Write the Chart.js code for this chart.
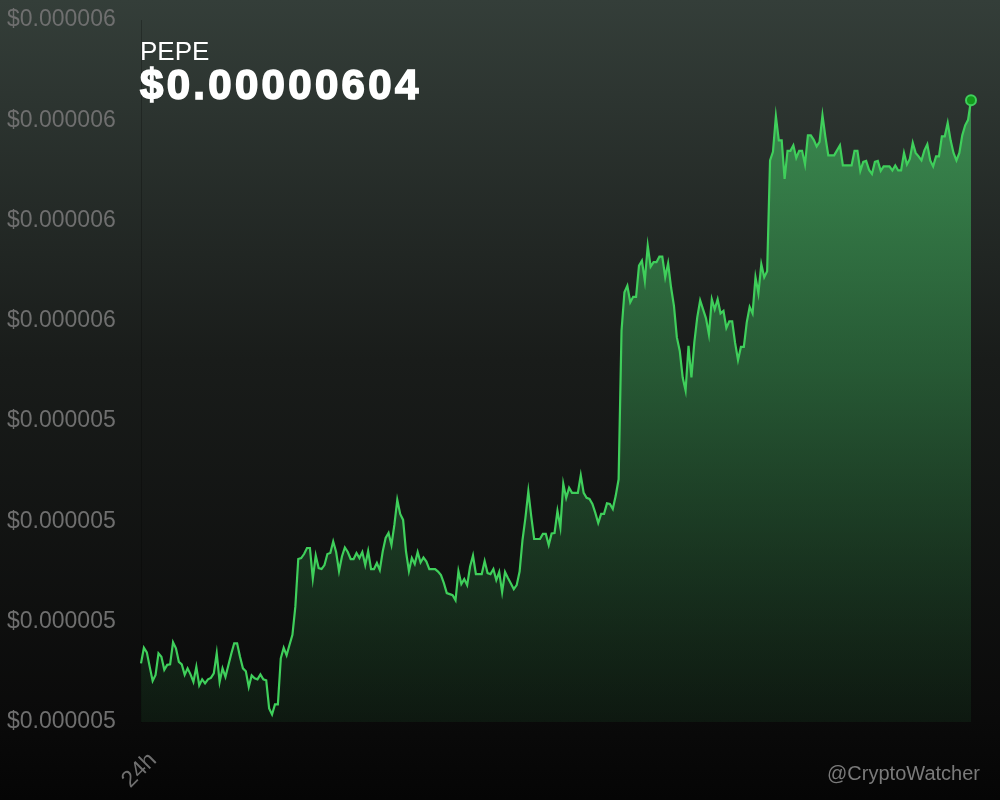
<!DOCTYPE html>
<html>
<head>
<meta charset="utf-8">
<script src="https://cdn.jsdelivr.net/npm/chart.js@4.4.0/dist/chart.umd.min.js"></script>
<style>
  body { margin: 0; background: #050505; }
  canvas { display: block; }
</style>
</head>
<body>
<canvas id="price-chart" width="1000" height="800"></canvas>
<script>
const coin = 'PEPE';
const lastPrice = '$0.00000604';
const tickLabels = ['24h'];
const watermark = '@CryptoWatcher';

// 24h of prices
const prices = [
  4.917e-6, 4.948e-6, 4.939e-6, 4.910e-6, 4.882e-6, 4.894e-6, 4.937e-6, 4.930e-6, 4.904e-6, 4.914e-6,
  4.915e-6, 4.959e-6, 4.947e-6, 4.920e-6, 4.915e-6, 4.894e-6, 4.907e-6, 4.895e-6, 4.880e-6, 4.910e-6,
  4.873e-6, 4.885e-6, 4.877e-6, 4.885e-6, 4.888e-6, 4.897e-6, 4.937e-6, 4.880e-6, 4.907e-6, 4.890e-6,
  4.913e-6, 4.936e-6, 4.957e-6, 4.957e-6, 4.930e-6, 4.907e-6, 4.901e-6, 4.870e-6, 4.893e-6, 4.887e-6,
  4.885e-6, 4.895e-6, 4.885e-6, 4.883e-6, 4.827e-6, 4.815e-6, 4.835e-6, 4.835e-6, 4.927e-6, 4.948e-6,
  4.933e-6, 4.954e-6, 4.974e-6, 5.030e-6, 5.125e-6,
  5.127e-6, 5.135e-6, 5.147e-6, 5.147e-6, 5.086e-6, 5.132e-6, 5.107e-6, 5.105e-6, 5.113e-6, 5.135e-6,
  5.137e-6, 5.160e-6, 5.139e-6, 5.101e-6, 5.130e-6, 5.148e-6, 5.139e-6, 5.125e-6, 5.125e-6, 5.137e-6,
  5.127e-6, 5.139e-6, 5.113e-6, 5.141e-6, 5.105e-6, 5.105e-6, 5.117e-6, 5.103e-6, 5.140e-6, 5.167e-6,
  5.177e-6, 5.153e-6, 5.193e-6, 5.243e-6, 5.215e-6, 5.203e-6, 5.140e-6, 5.101e-6, 5.127e-6, 5.115e-6,
  5.139e-6, 5.118e-6,
  5.128e-6, 5.120e-6, 5.105e-6, 5.105e-6, 5.105e-6, 5.100e-6, 5.093e-6, 5.077e-6, 5.057e-6, 5.055e-6,
  5.053e-6, 5.043e-6, 5.101e-6, 5.075e-6, 5.085e-6, 5.073e-6, 5.110e-6, 5.132e-6, 5.095e-6, 5.095e-6,
  5.095e-6, 5.121e-6, 5.097e-6, 5.095e-6, 5.105e-6, 5.083e-6, 5.099e-6, 5.059e-6, 5.099e-6, 5.087e-6,
  5.076e-6, 5.065e-6, 5.073e-6, 5.100e-6, 5.163e-6, 5.207e-6, 5.260e-6, 5.210e-6, 5.165e-6, 5.165e-6,
  5.165e-6, 5.175e-6, 5.175e-6, 5.153e-6, 5.176e-6, 5.177e-6, 5.221e-6, 5.188e-6, 5.275e-6, 5.247e-6,
  5.267e-6, 5.257e-6, 5.257e-6, 5.257e-6, 5.292e-6, 5.257e-6, 5.247e-6, 5.245e-6, 5.235e-6, 5.217e-6,
  5.197e-6, 5.215e-6, 5.215e-6, 5.236e-6, 5.235e-6, 5.225e-6, 5.251e-6, 5.284e-6, 5.580e-6, 5.657e-6,
  5.670e-6, 5.637e-6, 5.648e-6, 5.648e-6, 5.710e-6, 5.720e-6, 5.680e-6, 5.750e-6, 5.708e-6, 5.717e-6,
  5.717e-6, 5.728e-6, 5.728e-6, 5.687e-6, 5.715e-6, 5.667e-6, 5.630e-6, 5.567e-6, 5.540e-6, 5.487e-6,
  5.461e-6, 5.550e-6, 5.487e-6, 5.557e-6, 5.607e-6, 5.641e-6, 5.623e-6, 5.605e-6, 5.573e-6, 5.643e-6,
  5.623e-6, 5.643e-6, 5.615e-6, 5.620e-6, 5.586e-6, 5.599e-6, 5.599e-6, 5.556e-6, 5.522e-6, 5.548e-6,
  5.548e-6, 5.597e-6, 5.628e-6, 5.615e-6, 5.687e-6, 5.655e-6, 5.713e-6, 5.687e-6, 5.699e-6, 5.920e-6,
  5.937e-6, 6.008e-6, 5.960e-6, 5.960e-6, 5.883e-6, 5.939e-6, 5.939e-6, 5.950e-6, 5.925e-6, 5.939e-6,
  5.939e-6, 5.912e-6, 5.970e-6, 5.970e-6, 5.961e-6, 5.948e-6, 5.957e-6, 6.010e-6, 5.967e-6, 5.930e-6,
  5.930e-6, 5.930e-6, 5.940e-6, 5.950e-6, 5.910e-6, 5.910e-6, 5.910e-6, 5.910e-6, 5.939e-6, 5.939e-6,
  5.899e-6, 5.917e-6, 5.919e-6, 5.901e-6, 5.893e-6, 5.917e-6, 5.919e-6, 5.899e-6, 5.908e-6, 5.908e-6,
  5.908e-6, 5.900e-6, 5.910e-6, 5.900e-6, 5.900e-6, 5.935e-6, 5.912e-6, 5.923e-6, 5.955e-6, 5.935e-6,
  5.928e-6, 5.920e-6, 5.940e-6, 5.952e-6, 5.920e-6, 5.908e-6, 5.928e-6, 5.928e-6, 5.968e-6, 5.968e-6,
  5.995e-6, 5.960e-6, 5.935e-6, 5.920e-6, 5.935e-6, 5.970e-6, 5.990e-6, 6.001e-6, 6.040e-6
];

const yMin = 4.8e-6;
const yMax = 6.2e-6;
const yStep = 0.2e-6;

const labels = prices.map((_, i) => (i === 0 ? tickLabels[0] : ''));
const lastIndex = prices.length - 1;

// dark background behind everything
const backdrop = {
  id: 'backdrop',
  beforeDraw(chart) {
    const { ctx, width, height } = chart;
    const g = ctx.createLinearGradient(0, 0, 0, height);
    g.addColorStop(0, '#343e39');
    g.addColorStop(0.45, '#191c1a');
    g.addColorStop(0.9, '#0a0a0a');
    g.addColorStop(1, '#050505');
    ctx.save();
    ctx.fillStyle = g;
    ctx.fillRect(0, 0, width, height);
    ctx.restore();
  },
};

// coin name, big price and watermark
const headline = {
  id: 'headline',
  afterDraw(chart) {
    const { ctx, chartArea } = chart;
    ctx.save();
    ctx.fillStyle = '#ffffff';
    ctx.textAlign = 'left';
    ctx.textBaseline = 'alphabetic';
    ctx.font = '26px "Liberation Sans", Arial, sans-serif';
    ctx.fillText(coin, chartArea.left - 1, 60);
    ctx.font = 'bold 42px "Liberation Sans", Arial, sans-serif';
    ctx.letterSpacing = '3.3px';
    ctx.strokeStyle = '#ffffff';
    ctx.lineWidth = 1.6;
    ctx.fillText(lastPrice, chartArea.left - 1, 99);
    ctx.strokeText(lastPrice, chartArea.left - 1, 99);
    ctx.letterSpacing = '0px';
    ctx.fillStyle = '#7a7a7a';
    ctx.textAlign = 'right';
    ctx.font = '20px "Liberation Sans", Arial, sans-serif';
    ctx.fillText(watermark, 980, 780);
    ctx.restore();
  },
};

const ctx = document.getElementById('price-chart').getContext('2d');

new Chart(ctx, {
  type: 'line',
  data: {
    labels: labels,
    datasets: [
      {
        data: prices,
        borderColor: '#3fcf5b',
        borderWidth: 2.2,
        tension: 0,
        fill: 'start',
        backgroundColor: (c) => {
          const area = c.chart.chartArea;
          if (!area) return 'rgba(60,160,80,0.5)';
          const g = c.chart.ctx.createLinearGradient(0, area.top, 0, area.bottom);
          g.addColorStop(0, 'rgba(66,170,92,0.85)');
          g.addColorStop(0.5, 'rgba(48,130,70,0.6)');
          g.addColorStop(1, 'rgba(30,90,45,0.18)');
          return g;
        },
        pointRadius: (c) => (c.dataIndex === lastIndex ? 5 : 0),
        pointBackgroundColor: '#139a1c',
        pointBorderColor: '#3fcf5b',
        pointBorderWidth: 2,
      },
    ],
  },
  options: {
    responsive: false,
    animation: false,
    layout: { padding: { left: 7, right: 29, top: 20, bottom: 0 } },
    plugins: {
      legend: { display: false },
      tooltip: { enabled: false },
    },
    scales: {
      x: {
        grid: { display: false, drawTicks: false },
        border: { display: false },
        afterFit: (scale) => {
          scale.height = 78;
          scale.paddingLeft = 0;
          scale.paddingRight = 0;
        },
        ticks: {
          autoSkip: false,
          minRotation: 45,
          maxRotation: 45,
          padding: 25,
          labelOffset: 12,
          color: '#6f6f6f',
          font: { family: '"Liberation Sans", Arial, sans-serif', size: 23 },
        },
      },
      y: {
        min: yMin,
        max: yMax,
        grid: { display: false, drawTicks: false },
        border: { display: true, color: 'rgba(0,0,0,0.25)', width: 1 },
        afterFit: (scale) => {
          scale.width = 134;
          scale.paddingTop = 0;
          scale.paddingBottom = 0;
        },
        ticks: {
          stepSize: yStep,
          padding: 0,
          crossAlign: 'far',
          color: '#6f6f6f',
          font: { family: '"Liberation Sans", Arial, sans-serif', size: 23 },
          callback: (v) => '$' + Number(v).toFixed(6),
        },
      },
    },
  },
  plugins: [backdrop, headline],
});
</script>
</body>
</html>
